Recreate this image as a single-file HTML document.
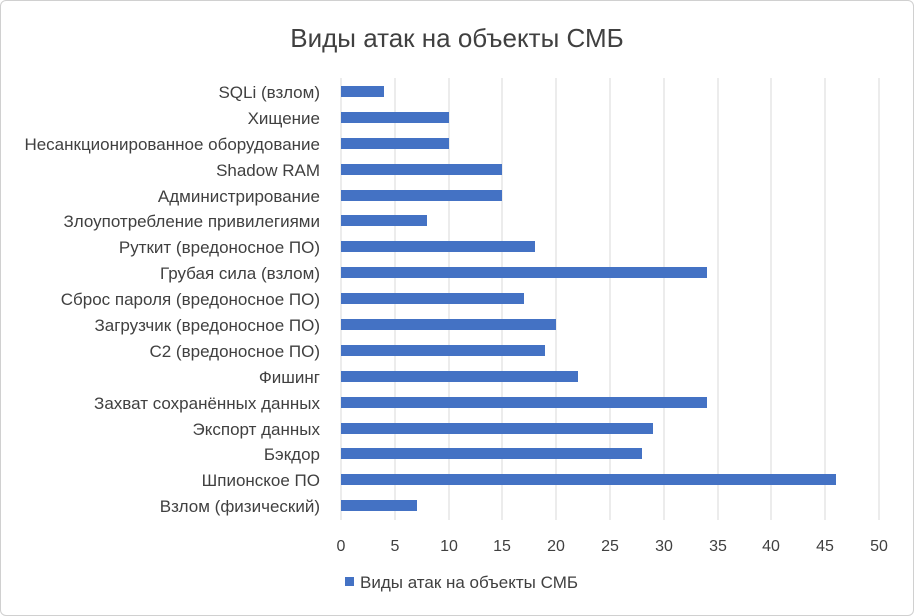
<!DOCTYPE html>
<html><head><meta charset="utf-8"><style>
body{margin:0;background:#fff;}
.c{position:absolute;left:0;top:0;width:912px;height:614px;border:1px solid #d0d0d0;border-radius:6px;}
</style></head><body>
<div class="c"></div>
<svg width="914" height="616" style="position:absolute;left:0;top:0" font-family="Liberation Sans, sans-serif">
<text x="457" y="47" text-anchor="middle" font-size="26" fill="#404040">Виды атак на объекты СМБ</text>
<g stroke="#d9d9d9" stroke-width="1">
<line x1="341" y1="78" x2="341" y2="520"/><line x1="395" y1="78" x2="395" y2="520"/><line x1="449" y1="78" x2="449" y2="520"/><line x1="502" y1="78" x2="502" y2="520"/><line x1="556" y1="78" x2="556" y2="520"/><line x1="610" y1="78" x2="610" y2="520"/><line x1="664" y1="78" x2="664" y2="520"/><line x1="718" y1="78" x2="718" y2="520"/><line x1="771" y1="78" x2="771" y2="520"/><line x1="825" y1="78" x2="825" y2="520"/><line x1="879" y1="78" x2="879" y2="520"/>
</g>
<g font-size="16" fill="#404040" text-anchor="middle">
<text x="341" y="551">0</text><text x="395" y="551">5</text><text x="449" y="551">10</text><text x="502" y="551">15</text><text x="556" y="551">20</text><text x="610" y="551">25</text><text x="664" y="551">30</text><text x="718" y="551">35</text><text x="771" y="551">40</text><text x="825" y="551">45</text><text x="879" y="551">50</text>
</g>
<g fill="#4472c4">
<rect x="341" y="86" width="43" height="11"/>
<rect x="341" y="112" width="108" height="11"/>
<rect x="341" y="138" width="108" height="11"/>
<rect x="341" y="164" width="161" height="11"/>
<rect x="341" y="190" width="161" height="11"/>
<rect x="341" y="215" width="86" height="11"/>
<rect x="341" y="241" width="194" height="11"/>
<rect x="341" y="267" width="366" height="11"/>
<rect x="341" y="293" width="183" height="11"/>
<rect x="341" y="319" width="215" height="11"/>
<rect x="341" y="345" width="204" height="11"/>
<rect x="341" y="371" width="237" height="11"/>
<rect x="341" y="397" width="366" height="11"/>
<rect x="341" y="423" width="312" height="11"/>
<rect x="341" y="448" width="301" height="11"/>
<rect x="341" y="474" width="495" height="11"/>
<rect x="341" y="500" width="76" height="11"/>
</g>
<g font-size="17" fill="#404040" text-anchor="end">
<text x="320" y="98">SQLi (взлом)</text>
<text x="320" y="124">Хищение</text>
<text x="320" y="150">Несанкционированное оборудование</text>
<text x="320" y="176">Shadow RAM</text>
<text x="320" y="202">Администрирование</text>
<text x="320" y="227">Злоупотребление привилегиями</text>
<text x="320" y="253">Руткит (вредоносное ПО)</text>
<text x="320" y="279">Грубая сила (взлом)</text>
<text x="320" y="305">Сброс пароля (вредоносное ПО)</text>
<text x="320" y="331">Загрузчик (вредоносное ПО)</text>
<text x="320" y="357">С2 (вредоносное ПО)</text>
<text x="320" y="383">Фишинг</text>
<text x="320" y="409">Захват сохранённых данных</text>
<text x="320" y="435">Экспорт данных</text>
<text x="320" y="460">Бэкдор</text>
<text x="320" y="486">Шпионское ПО</text>
<text x="320" y="512">Взлом (физический)</text>
</g>
<rect x="345" y="577" width="9" height="9" fill="#4472c4"/>
<text x="360" y="588" font-size="17" fill="#404040">Виды атак на объекты СМБ</text>
</svg>
</body></html>
